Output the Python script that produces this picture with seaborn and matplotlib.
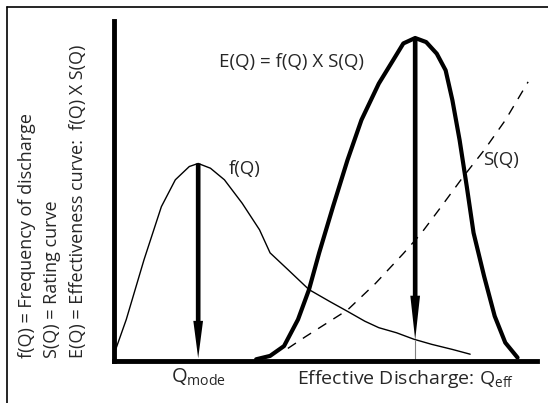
import matplotlib
matplotlib.use("Agg")
import matplotlib.pyplot as plt
from matplotlib.lines import Line2D
import numpy as np
import pandas as pd
import seaborn as sns

# frequency of discharge f(Q)
f_x = [0.4, 2.9, 7.1, 11.2, 14.5, 17.8, 19.9, 22.8, 26.1, 30.3, 34.4, 36.9, 41.1,
       46.1, 51.0, 55.2, 59.3, 62.6, 66.8, 70.9, 75.1, 80.0, 84.2]
f_y = [3.4, 12.2, 29.8, 45.4, 53.3, 57.2, 58.1, 56.7, 53.3, 46.4, 38.6, 31.8, 26.9,
       21.0, 17.5, 14.6, 11.7, 9.8, 8.3, 6.4, 4.9, 3.4, 2.0]

# effectiveness curve E(Q)
e_x = [33.6, 36.9, 40.2, 43.5, 46.1, 48.5, 51.8, 55.2, 58.5, 62.6, 66.0, 68.4, 71.2,
       73.8, 76.3, 78.4, 80.0, 81.7, 83.4, 85.0, 87.5, 90.0, 92.5, 95.4]
e_y = [0.5, 1.5, 4.4, 12.2, 21.0, 31.8, 45.5, 59.1, 70.9, 81.6, 88.5, 93.4, 95.0,
       93.8, 90.4, 85.5, 76.7, 65.0, 51.3, 37.7, 24.9, 13.2, 5.4, 1.0]

# rating curve S(Q)
s_x = [41.1, 45.2, 55.2, 61.8, 68.4, 72.6, 76.7, 82.5, 87.5, 92.5, 97.9]
s_y = [3.7, 7.1, 15.0, 22.8, 31.6, 37.5, 44.3, 54.1, 62.0, 70.8, 82.1]

left_labels = ["f(Q) = Frequency of discharge",
               "S(Q) = Rating curve",
               "E(Q) = Effectiveness curve:  f(Q) X S(Q)"]

sns.set_style("white")
plt.rcParams['font.family'] = ['Open Sans', 'DejaVu Sans']
plt.rcParams['mathtext.fontset'] = 'custom'
plt.rcParams['mathtext.rm'] = 'Open Sans'
plt.rcParams['mathtext.it'] = 'Open Sans'

W, H = 548, 403
fig = plt.figure(figsize=(W / 100, H / 100), dpi=100)
ax = fig.add_axes([114 / W, 42 / H, (537 - 114) / W, (361 - 21) / H])

df_f = pd.DataFrame({"Q": f_x, "v": f_y})
df_e = pd.DataFrame({"Q": e_x, "v": e_y})
df_s = pd.DataFrame({"Q": s_x, "v": s_y})

sns.lineplot(data=df_f, x="Q", y="v", ax=ax, color="black", lw=1.0, estimator=None)
sns.lineplot(data=df_e, x="Q", y="v", ax=ax, color="black", lw=3.0, estimator=None)
sns.lineplot(data=df_s, x="Q", y="v", ax=ax, color="black", lw=1.0, estimator=None,
             dashes=False)
ax.lines[-1].set_dashes([7, 6])

ax.set_xlim(0, 100)
ax.set_ylim(0, 100)
ax.set_xticks([])
ax.set_yticks([])
ax.set_xlabel("")
ax.set_ylabel("")
sns.despine(ax=ax)
for side in ["left", "bottom"]:
    ax.spines[side].set_linewidth(3.5)
    ax.spines[side].set_color("black")

# arrows from the peaks down to the axis
i_f = int(np.argmax(f_y))
i_e = int(np.argmax(e_y))
ax.arrow(f_x[i_f], f_y[i_f], 0, -f_y[i_f] + 0.8, width=1.1, head_width=2.3,
         head_length=11, length_includes_head=True, color="black", lw=0)
ax.arrow(e_x[i_e], e_y[i_e], 0, -e_y[i_e] + 6.2, width=1.1, head_width=2.3,
         head_length=13, length_includes_head=True, color="black", lw=0)
ax.vlines(e_x[i_e], 0, 6.2, color="0.5", lw=0.8)

fs = 13.5
ax.text(f_x[i_f] + 11, f_y[i_f] - 1.5, "f(Q)", fontsize=fs, ha="center", va="center")
ax.text(42, 88, "E(Q) = f(Q) X S(Q)", fontsize=fs, ha="center", va="center")
ax.text(91.5, 59, "S(Q)", fontsize=fs, ha="center", va="center")

ax.text(f_x[i_f], -4.8, r"Q$_{\mathrm{mode}}$", fontsize=14.5, ha="center", va="center",
        clip_on=False)
ax.text(68.8, -5.2, r"Effective Discharge: Q$_{\mathrm{eff}}$", fontsize=14,
        ha="center", va="center", clip_on=False)

for xp, lab in zip([27, 52, 78], left_labels):
    fig.text(xp / W, 1 - 358 / H, lab, rotation=90, fontsize=13,
             ha="center", va="bottom")

# frame of the original figure (top and left edges)
fig.add_artist(Line2D([7 / W, 7 / W], [0, 1 - 7 / H], color="black", lw=1.2))
fig.add_artist(Line2D([7 / W, 1], [1 - 7 / H, 1 - 7 / H], color="black", lw=1.2))

fig.savefig("out.png", dpi=100)
